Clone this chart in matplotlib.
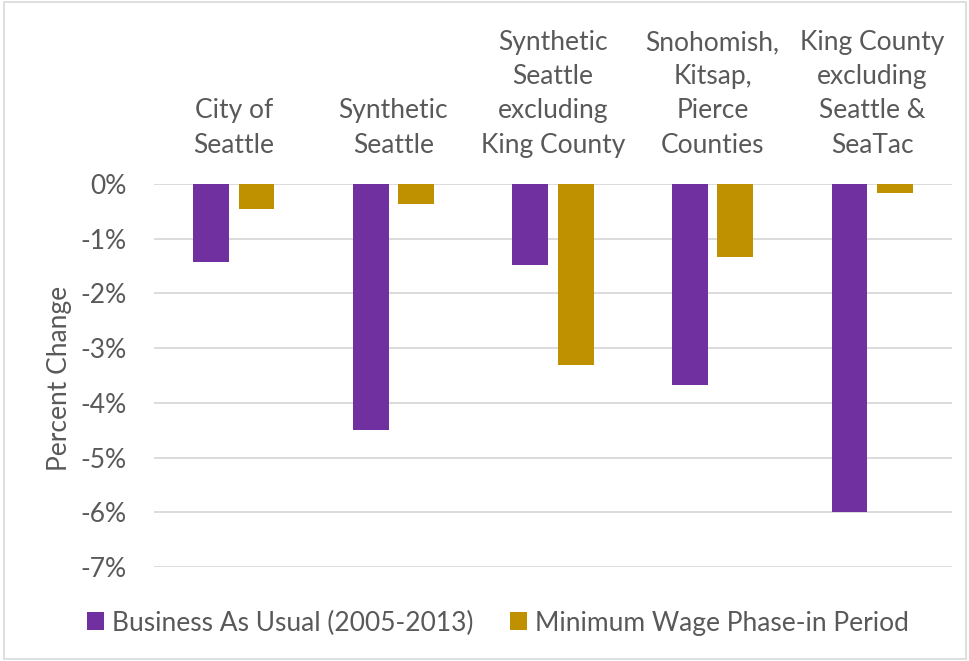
import matplotlib
matplotlib.use("Agg")
import matplotlib.pyplot as plt
from matplotlib.patches import Patch, Rectangle
import numpy as np

plt.rcParams['font.family'] = ['Lato', 'DejaVu Sans']

categories = ["City of\nSeattle", "Synthetic\nSeattle", "Synthetic\nSeattle\nexcluding\nKing County",
              "Snohomish,\nKitsap,\nPierce\nCounties", "King County\nexcluding\nSeattle &\nSeaTac"]
business_as_usual = [-1.43, -4.50, -1.48, -3.67, -5.99]
min_wage_phase_in = [-0.46, -0.37, -3.31, -1.34, -0.16]
series_names = ["Business As Usual (2005-2013)", "Minimum Wage Phase-in Period"]
yticks = [0, -1, -2, -3, -4, -5, -6, -7]

purple = "#7030A0"
gold = "#BF9000"
text_col = "#595959"
fs = 19

fig = plt.figure(figsize=(9.7, 6.61), dpi=100)
ax = fig.add_axes([154/970, 1-567/661, (952-154)/970, (567-184)/661])

x = np.arange(len(categories))
w = 0.225
off = 0.142
ax.bar(x - off, business_as_usual, w, color=purple, zorder=3)
ax.bar(x + off, min_wage_phase_in, w, color=gold, zorder=3)

ax.set_xlim(-0.5, len(categories) - 0.5)
ax.set_ylim(-7, 0)
ax.set_yticks(yticks)
ax.set_yticklabels([f"{v}%" for v in yticks])
ax.tick_params(axis='y', length=0, pad=20, labelsize=fs, labelcolor=text_col)
ax.tick_params(axis='x', length=0, labelbottom=False)
ax.grid(axis='y', color='#d9d9d9', linewidth=1.3, zorder=0)
for s in ax.spines.values():
    s.set_visible(False)

for i, c in enumerate(categories):
    ax.annotate(c, xy=(i, 1), xycoords=('data', 'axes fraction'), xytext=(0, 19),
                textcoords='offset points', ha='center', va='bottom', multialignment='center',
                fontsize=fs, color=text_col, linespacing=1.46)

fig.text(60/970, 1-378/661, "Percent Change", rotation=90, ha='center', va='center',
         fontsize=fs, color=text_col)

handles = [Patch(facecolor=purple), Patch(facecolor=gold)]
leg = fig.legend(handles, series_names, loc='center', bbox_to_anchor=(498/970, 1-623/661),
                 ncol=2, frameon=False, fontsize=fs, handlelength=0.65, handleheight=0.65,
                 handletextpad=0.3, columnspacing=1.4, labelcolor=text_col)

fig.patches.append(Rectangle((4/970, 2/661), 962/970, 657/661, transform=fig.transFigure,
                             fill=False, edgecolor='#d9d9d9', linewidth=1.2))

fig.savefig("out.png", dpi=100)
